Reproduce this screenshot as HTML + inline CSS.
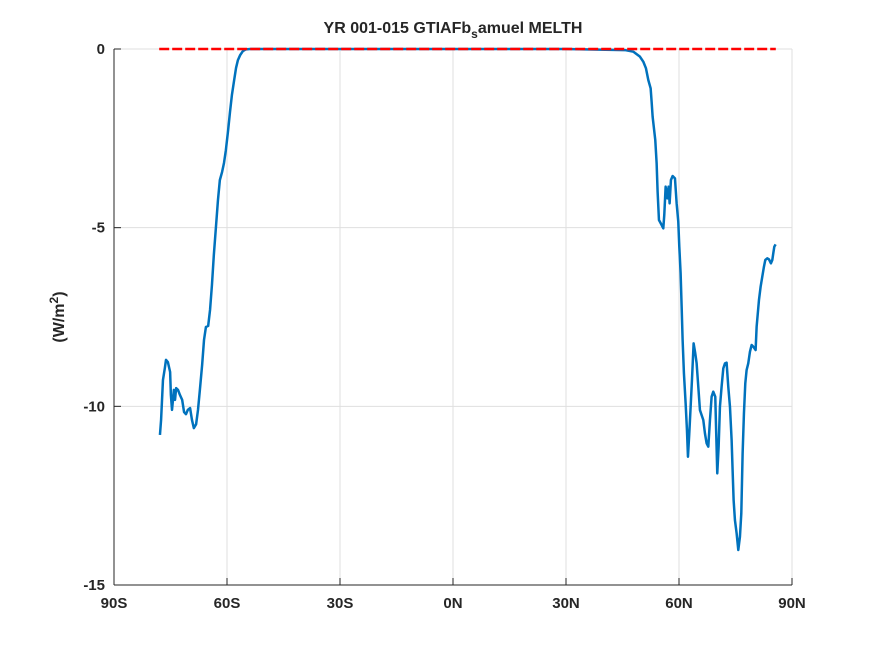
<!DOCTYPE html>
<html><head><meta charset="utf-8"><style>
body{margin:0;background:#fff;}
svg text{font-family:"Liberation Sans",sans-serif;font-weight:bold;fill:#262626;}
</style></head><body>
<svg id="chart" width="875" height="656" viewBox="0 0 875 656" xmlns="http://www.w3.org/2000/svg">
<rect x="0" y="0" width="875" height="656" fill="#fff"/>
<rect x="114" y="49" width="678" height="536" fill="#fff"/>
<g id="grid"></g>
<g id="series"></g>
<g id="axes"></g>
<text x="453" y="33" text-anchor="middle" font-size="16">YR 001-015 GTIAFb<tspan dy="5" font-size="12">s</tspan><tspan dy="-5">amuel MELTH</tspan></text>
<text transform="translate(64,317) rotate(-90)" text-anchor="middle" font-size="16">(W/m<tspan dy="-6" font-size="12">2</tspan><tspan dy="6">)</tspan></text>
</svg>
<script>
const xTicks=[-90,-60,-30,0,30,60,90];
const xTickLabels=["90S","60S","30S","0N","30N","60N","90N"];
const yTicks=[0,-5,-10,-15];
const yTickLabels=["0","-5","-10","-15"];
const lat=[-77.8,-77.5,-77.0,-76.5,-76.2,-75.7,-75.1,-74.9,-74.6,-74.3,-74.1,-73.8,-73.5,-73.0,-72.5,-71.9,-71.4,-70.9,-70.4,-69.8,-69.3,-68.8,-68.2,-67.7,-67.2,-66.6,-66.1,-65.6,-65.0,-64.5,-64.0,-63.5,-62.9,-62.4,-61.9,-61.3,-60.8,-60.3,-59.7,-59.2,-58.7,-58.1,-57.6,-57.1,-56.5,-55.8,-55.0,-53.9,-52.6,-30,0,30,
45.65,47.86,49.63,50.52,51.23,51.85,52.47,52.73,53.00,53.35,53.70,54.06,54.32,54.68,55.39,55.83,56.09,56.45,56.89,57.24,57.51,57.86,58.31,58.93,59.37,59.81,60.08,60.43,60.70,60.96,61.31,61.76,62.11,62.38,62.73,63.09,63.44,63.88,64.32,64.68,65.12,65.56,66.00,66.45,66.89,67.33,67.78,68.22,68.66,69.10,69.63,69.81,70.16,70.52,70.87,71.31,71.76,72.20,72.64,73.08,73.53,73.97,74.23,74.50,74.85,75.30,75.74,76.18,76.54,76.89,77.24,77.60,77.95,78.39,78.84,79.28,79.72,80.34,80.61,81.23,81.67,82.11,82.55,82.91,83.44,83.88,84.41,84.77,85.03,85.30,85.65];
const melth=[-10.80,-10.38,-9.26,-8.93,-8.70,-8.76,-9.04,-9.68,-10.10,-9.77,-9.54,-9.82,-9.49,-9.54,-9.68,-9.82,-10.16,-10.22,-10.10,-10.05,-10.38,-10.61,-10.50,-10.10,-9.54,-8.84,-8.14,-7.78,-7.75,-7.30,-6.61,-5.77,-4.93,-4.23,-3.67,-3.44,-3.19,-2.83,-2.27,-1.76,-1.29,-0.87,-0.53,-0.31,-0.17,-0.06,-0.01,0,0,0,0,0,
-0.03,-0.075,-0.214,-0.354,-0.541,-0.868,-1.101,-1.474,-1.894,-2.220,-2.547,-3.200,-3.993,-4.786,-4.926,-5.019,-4.646,-3.853,-4.179,-3.853,-4.319,-3.666,-3.554,-3.620,-4.319,-4.832,-5.532,-6.278,-7.211,-8.144,-9.077,-9.917,-10.663,-11.410,-10.757,-10.010,-9.264,-8.238,-8.518,-8.797,-9.450,-10.104,-10.243,-10.383,-10.757,-11.036,-11.129,-10.383,-9.730,-9.590,-9.730,-10.477,-11.876,-11.129,-10.010,-9.450,-8.937,-8.797,-8.778,-9.450,-10.010,-10.943,-11.783,-12.622,-13.182,-13.555,-14.021,-13.648,-12.995,-11.316,-10.197,-9.357,-8.984,-8.797,-8.471,-8.284,-8.331,-8.424,-7.771,-7.025,-6.652,-6.372,-6.092,-5.905,-5.858,-5.886,-5.998,-5.905,-5.718,-5.532,-5.467];
const refRange=[-78,85.7];
const refValue=0;

const X0=114,X1=792,Y0=49,Y1=585;
const sx=v=>X0+(v+90)/180*(X1-X0);
const sy=v=>Y0+(0-v)/15*(Y1-Y0);
const NS="http://www.w3.org/2000/svg";
function mk(tag,parent){const e=document.createElementNS(NS,tag);parent.appendChild(e);return e;}
const grid=document.getElementById('grid'),axes=document.getElementById('axes'),ser=document.getElementById('series');
xTicks.forEach((t,i)=>{
  const l=mk('line',grid);
  
  
  l.setAttribute('x1',sx(t));l.setAttribute('x2',sx(t));l.setAttribute('y1',Y0);l.setAttribute('y2',Y1);
  l.setAttribute('stroke','#dfdfdf');l.setAttribute('stroke-width','1');
  const tk=mk('line',axes);
  
  
  tk.setAttribute('x1',sx(t));tk.setAttribute('x2',sx(t));tk.setAttribute('y1',Y1);tk.setAttribute('y2',Y1-7);
  tk.setAttribute('stroke','#262626');
  const tx=mk('text',axes);
  
  
  tx.setAttribute('x',sx(t));tx.setAttribute('y',Y1+23);tx.setAttribute('text-anchor','middle');tx.setAttribute('font-size','15');
  tx.textContent=xTickLabels[i];
});
yTicks.forEach((t,i)=>{
  const l=mk('line',grid);
  
  
  l.setAttribute('x1',X0);l.setAttribute('x2',X1);l.setAttribute('y1',sy(t));l.setAttribute('y2',sy(t));
  l.setAttribute('stroke','#dfdfdf');l.setAttribute('stroke-width','1');
  const tk=mk('line',axes);
  
  
  tk.setAttribute('x1',X0);tk.setAttribute('x2',X0+7);tk.setAttribute('y1',sy(t));tk.setAttribute('y2',sy(t));
  tk.setAttribute('stroke','#262626');
  const tx=mk('text',axes);
  
  
  tx.setAttribute('x',X0-9);tx.setAttribute('y',sy(t)+5);tx.setAttribute('text-anchor','end');tx.setAttribute('font-size','15');
  tx.textContent=yTickLabels[i];
});
const xa=mk('line',axes);


xa.setAttribute('x1',X0);xa.setAttribute('x2',X1);xa.setAttribute('y1',Y1);xa.setAttribute('y2',Y1);xa.setAttribute('stroke','#262626');
const ya=mk('line',axes);


ya.setAttribute('x1',X0);ya.setAttribute('x2',X0);ya.setAttribute('y1',Y0);ya.setAttribute('y2',Y1);ya.setAttribute('stroke','#262626');

const p=mk('polyline',ser);


p.setAttribute('points',lat.map((v,i)=>sx(v).toFixed(2)+','+sy(melth[i]).toFixed(2)).join(' '));
p.setAttribute('fill','none');p.setAttribute('stroke','#0072bd');p.setAttribute('stroke-width','2.5');p.setAttribute('stroke-linejoin','round');
const r=mk('line',ser);


r.setAttribute('x1',sx(refRange[0]));r.setAttribute('x2',sx(refRange[1]));r.setAttribute('y1',sy(refValue));r.setAttribute('y2',sy(refValue));
r.setAttribute('stroke','#ff0000');r.setAttribute('stroke-width','2.5');r.setAttribute('stroke-dasharray','10,3');
</script>
</body></html>
